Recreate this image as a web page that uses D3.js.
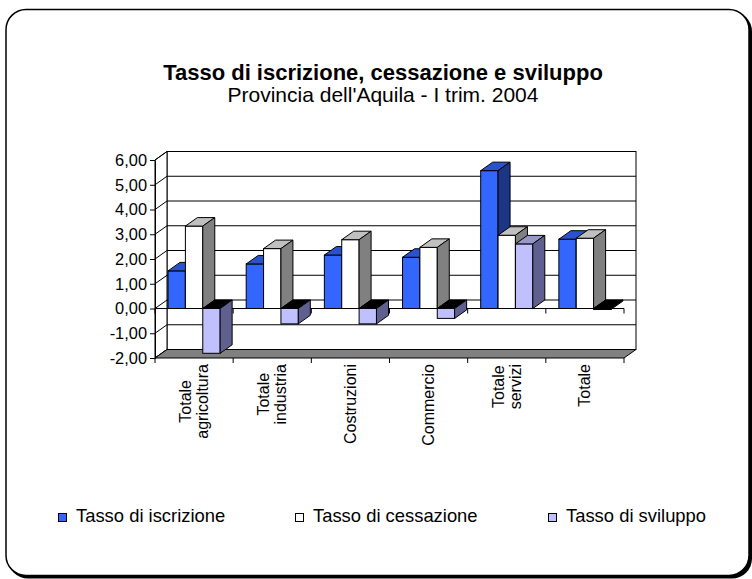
<!DOCTYPE html>
<html>
<head>
<meta charset="utf-8">
<script src="https://cdn.jsdelivr.net/npm/d3@7/dist/d3.min.js"></script>
<style>
  body { margin: 0; background: #fff; }
  svg { display: block; font-family: "Liberation Sans", Arial, sans-serif; }
</style>
</head>
<body>
<svg id="chart" width="752" height="579"></svg>
<script>
'use strict';

var categories = ['Totale\nagricoltura', 'Totale\nindustria', 'Costruzioni', 'Commercio', 'Totale\nservizi', 'Totale'];
var seriesNames = ['Tasso di iscrizione', 'Tasso di cessazione', 'Tasso di sviluppo'];
var iscrizione = [1.52, 1.80, 2.16, 2.07, 5.57, 2.80];
var cessazione = [3.33, 2.42, 2.78, 2.47, 2.96, 2.84];
var sviluppo   = [-1.81, -0.62, -0.62, -0.40, 2.61, -0.04];
var yTicks = [-2, -1, 0, 1, 2, 3, 4, 5, 6];

var series = [iscrizione, cessazione, sviluppo];
// front, top, side
var shades = [
    ['#3366ff', '#2a52cc', '#1c3584'],
    ['#ffffff', '#c0c0c0', '#808080'],
    ['#c0c0ff', '#9797c9', '#606090']
];

var svg = d3.select('#chart'),
    fmt = d3.formatLocale({decimal: ',', thousands: '.', grouping: [3], currency: ['', '€'], minus: '-'}).format('.2f'),
    left = 155,
    right = 624,
    dx = 12,
    dy = -8.5;

// outer frame with shadow
svg.append('rect').attr('x', 8).attr('y', 11.5).attr('width', 744).attr('height', 567).attr('rx', 20).attr('fill', '#000');
svg.append('rect').attr('x', 6).attr('y', 9.5).attr('width', 743).attr('height', 566).attr('rx', 20)
    .attr('fill', '#fff').attr('stroke', '#000').attr('stroke-width', 1.5);

// titles
svg.append('text').attr('x', 383).attr('y', 80).attr('text-anchor', 'middle')
    .attr('font-size', 22).attr('font-weight', 'bold').text('Tasso di iscrizione, cessazione e sviluppo');
svg.append('text').attr('x', 383).attr('y', 102).attr('text-anchor', 'middle')
    .attr('font-size', 21).text("Provincia dell'Aquila - I trim. 2004");

var y = d3.scaleLinear().domain([-2, 6]).range([358, 160]);
var x = d3.scaleBand().domain(d3.range(categories.length)).range([left, right]);
var xs = d3.scaleBand().domain(d3.range(series.length)).range([0, x.bandwidth()]).paddingOuter(0.75);

function poly(pts) { return 'M' + pts.map(function (p) { return p[0] + ',' + p[1]; }).join('L') + 'Z'; }

var plot = svg.append('g');

// back wall
plot.append('rect')
    .attr('x', left + dx).attr('y', y(6) + dy)
    .attr('width', right - left).attr('height', y(-2) - y(6))
    .attr('fill', '#fff').attr('stroke', '#000');
// left wall
plot.append('path')
    .attr('d', poly([[left, y(6)], [left + dx, y(6) + dy], [left + dx, y(-2) + dy], [left, y(-2)]]))
    .attr('fill', '#fff').attr('stroke', '#000');

// gridlines on back wall and side wall
yTicks.forEach(function (v) {
    plot.append('line')
        .attr('x1', left + dx).attr('x2', right + dx)
        .attr('y1', y(v) + dy).attr('y2', y(v) + dy)
        .attr('stroke', '#000');
    plot.append('line')
        .attr('x1', left).attr('x2', left + dx)
        .attr('y1', y(v)).attr('y2', y(v) + dy)
        .attr('stroke', '#000');
});

// floor
plot.append('path')
    .attr('d', poly([[left, y(-2)], [right, y(-2)], [right + dx, y(-2) + dy], [left + dx, y(-2) + dy]]))
    .attr('fill', '#808080').attr('stroke', '#000');

// category axis at zero
var bounds = d3.range(categories.length + 1).map(function (i) {
    return i < categories.length ? x(i) : right;
});
plot.append('line').attr('x1', left).attr('x2', right).attr('y1', y(0)).attr('y2', y(0)).attr('stroke', '#000');
bounds.forEach(function (b) {
    plot.append('line').attr('x1', b).attr('x2', b).attr('y1', y(0)).attr('y2', y(0) + 5).attr('stroke', '#000');
    plot.append('line').attr('x1', b).attr('x2', b).attr('y1', y(-2)).attr('y2', y(-2) + 5).attr('stroke', '#000');
});

// bars
categories.forEach(function (c, ci) {
    series.forEach(function (s, si) {
        var v = s[ci],
            bx = x(ci) + xs(si),
            bw = xs.bandwidth(),
            y0 = y(0),
            yv = y(v),
            top = Math.min(y0, yv),
            bot = Math.max(y0, yv),
            col = shades[si];
        plot.append('rect')
            .attr('x', bx).attr('y', top).attr('width', bw).attr('height', bot - top)
            .attr('fill', col[0]).attr('stroke', '#000');
        plot.append('path')
            .attr('d', poly([[bx, top], [bx + bw, top], [bx + bw + dx, top + dy], [bx + dx, top + dy]]))
            .attr('fill', v < 0 ? '#000' : col[1]).attr('stroke', '#000');
        plot.append('path')
            .attr('d', poly([[bx + bw, top], [bx + bw + dx, top + dy], [bx + bw + dx, bot + dy], [bx + bw, bot]]))
            .attr('fill', col[2]).attr('stroke', '#000');
    });
});

// value axis
var yAxis = svg.append('g')
    .attr('transform', 'translate(' + left + ',0)')
    .call(d3.axisLeft(y).tickValues(yTicks).tickFormat(fmt).tickSize(5).tickSizeOuter(0).tickPadding(3));
yAxis.select('.domain').attr('stroke', '#000');
yAxis.selectAll('text').attr('font-size', 16.4).attr('fill', '#000').attr('font-family', '"Liberation Sans", Arial, sans-serif');

// category labels
categories.forEach(function (c, ci) {
    var lines = c.split('\n'),
        cx = x(ci) + x.bandwidth() / 2,
        g = svg.append('g').attr('transform', 'translate(' + cx + ',364) rotate(-90)'),
        texts = lines.map(function (l, li) {
            return g.append('text')
                .attr('y', 5.5 + (li - (lines.length - 1) / 2) * 17)
                .attr('font-size', 16)
                .attr('text-anchor', 'middle')
                .text(l);
        }),
        maxW = d3.max(texts, function (t) { return t.node().getComputedTextLength(); });
    texts.forEach(function (t) { t.attr('x', -maxW / 2); });
});

// legend
var legendX = [58, 295, 548];
seriesNames.forEach(function (name, i) {
    svg.append('rect').attr('x', legendX[i] + 0.5).attr('y', 513.5).attr('width', 8).attr('height', 8)
        .attr('fill', shades[i][0]).attr('stroke', '#000');
    svg.append('text').attr('x', legendX[i] + 18).attr('y', 522).attr('font-size', 18.4).text(name);
});
</script>
</body>
</html>
